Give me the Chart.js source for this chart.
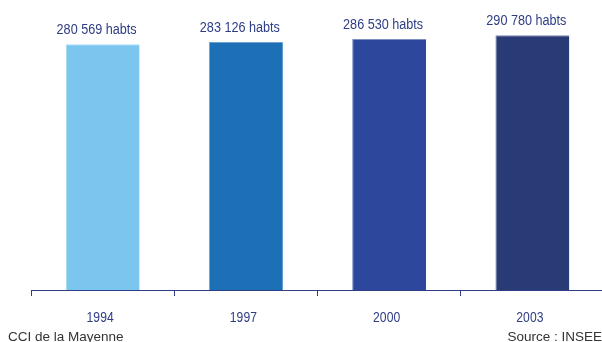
<!DOCTYPE html>
<html><head><meta charset="utf-8">
<script src="https://cdn.jsdelivr.net/npm/chart.js@4/dist/chart.umd.min.js"></script>
<style>
html,body{margin:0;padding:0;background:#fff;overflow:hidden;width:602px;height:342px;}
#wrap{position:relative;width:606px;height:342px;}
canvas{display:block;}
.foot{position:absolute;top:329px;font-family:"Liberation Sans",Arial,sans-serif;font-size:13.5px;line-height:15px;color:#333;white-space:nowrap;}
</style></head><body>
<div id="wrap"><canvas id="c" width="606" height="342"></canvas>
<div class="foot" style="left:8px">CCI de la Mayenne</div>
<div class="foot" style="right:4px">Source : INSEE</div>
</div>
<script>
const years = ["1994","1997","2000","2003"];
const population = [280569, 283126, 286530, 290780];
const valueLabels = ["280 569 habts","283 126 habts","286 530 habts","290 780 habts"];
const barColors = ["#7AC6EF","#1D6FB6","#2D479C","#283B76"];
const barEdgeColors = ["#A9DAF5","#6FA0D0","#7A8CC2","#7C88AE"];

const navy = "#2E3D84";
const FONT = '"Liberation Sans", Arial, sans-serif';

function drawCondensed(ctx, text, x, y, size, sx){
  ctx.save();
  ctx.font = size + 'px ' + FONT;
  ctx.textAlign = "center";
  ctx.textBaseline = "alphabetic";
  ctx.translate(x, y);
  ctx.scale(sx, 1);
  ctx.fillText(text, 0, 0);
  ctx.restore();
}

const labelPlugin = {
  id: "valueLabels",
  afterDatasetsDraw(chart){
    const ctx = chart.ctx;
    const meta = chart.getDatasetMeta(0);
    ctx.save();
    ctx.fillStyle = navy;
    meta.data.forEach((el,i)=>{
      drawCondensed(ctx, valueLabels[i], el.x - 6, el.y - 10, 15.5, 0.815);
    });
    const xs = chart.scales.x;
    years.forEach((y,i)=>{
      drawCondensed(ctx, y, xs.getPixelForTick(i) - 2.5, xs.top + 31.5, 15, 0.81);
    });
    ctx.restore();
  }
};

new Chart(document.getElementById("c"), {
  type: "bar",
  data: {
    labels: years,
    datasets: [{
      data: population,
      backgroundColor: barColors,
      borderColor: barEdgeColors,
      borderWidth: { left: 1, top: 1, right: 0, bottom: 0 },
      borderSkipped: false,
      categoryPercentage: 1,
      barPercentage: 0.516
    }]
  },
  options: {
    responsive: false,
    animation: false,
    devicePixelRatio: 1,
    layout: { padding: { left: 31, right: 2, top: 0, bottom: 0 } },
    plugins: { legend: { display: false }, tooltip: { enabled: false } },
    scales: {
      x: {
        grid: { display: true, drawOnChartArea: false, drawTicks: true, tickLength: 6, color: navy, offset: true },
        border: { display: true, color: navy, width: 1 },
        ticks: { display: false },
        afterFit(scale){ scale.height = 52; }
      },
      y: {
        display: false,
        min: 0,
        max: 331000
      }
    }
  },
  plugins: [labelPlugin]
});
</script>
</body></html>
